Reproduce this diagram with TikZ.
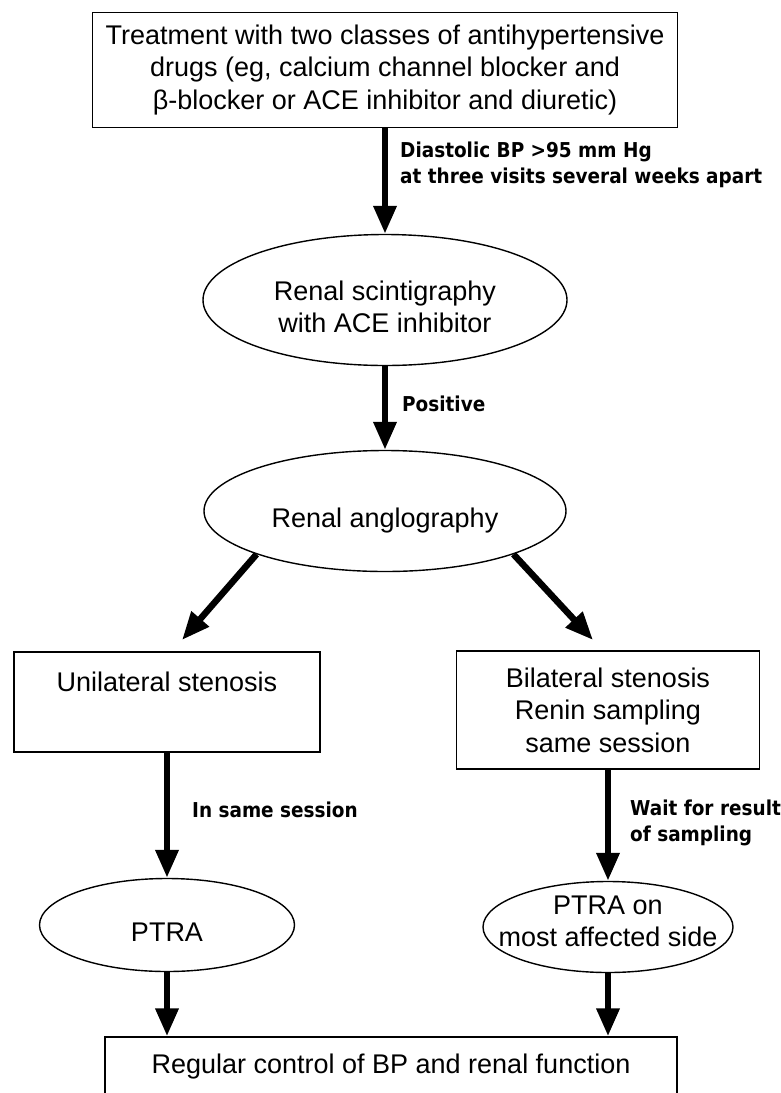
\documentclass[tikz,border=0pt]{standalone}
\usepackage{fontspec}
\setmainfont{Liberation Sans}
\newfontfamily\notefont{DejaVu Sans Condensed}
\usetikzlibrary{arrows.meta,shapes.geometric}
\newcommand{\txtsize}{\fontsize{27}{32.5}\selectfont}
\newcommand{\notesize}{\notefont\bfseries\fontsize{20.5}{26}\selectfont}
\newcommand{\ovaltext}[2][-16pt]{\makebox[0pt]{\raisebox{#1}{\begin{tabular}{@{}c@{}}#2\end{tabular}}}}
\begin{document}
\begin{tikzpicture}[x=1pt,y=-1pt,>={Triangle[length=28pt,width=22pt]},
  box/.style={draw,line width=1.4pt,align=center,inner sep=0pt,font=\txtsize},
  oval/.style={draw,ellipse,line width=1.4pt,inner sep=0pt,text height=0pt,text depth=0pt,font=\txtsize},
  flow/.style={->,line width=6.5pt},
  note/.style={anchor=west,align=left,inner sep=0pt,font=\notesize}]
\useasboundingbox (0,0) rectangle (781,1093);

\node[box,minimum width=585pt,minimum height=115pt] (drugs) at (385,70) {Treatment with two classes of antihypertensive\\drugs (eg, calcium channel blocker and\\β-blocker or ACE inhibitor and diuretic)};
\node[oval,minimum width=364pt,minimum height=131pt] (scint) at (385,300) {\ovaltext{Renal scintigraphy\\with ACE inhibitor}};
\node[oval,minimum width=362pt,minimum height=121pt] (angio) at (385,511) {\ovaltext{Renal anglography}};
\node[box,minimum width=306pt,text height=39pt,text depth=61pt] (uni) at (167,702) {Unilateral stenosis};
\node[box,minimum width=303pt,minimum height=118pt] (bi) at (608,710) {Bilateral stenosis\\Renin sampling\\same session};
\node[oval,minimum width=255pt,minimum height=93pt] (ptra) at (167,925) {\ovaltext{PTRA}};
\node[oval,minimum width=250pt,minimum height=91pt] (ptraside) at (608,927) {\ovaltext[-3pt]{PTRA on\\most affected side}};
\node[box,minimum width=572pt,text height=36pt,text depth=40pt] (control) at (391,1075) {Regular control of BP and renal function};

\coordinate (unitip) at (182,640);
\coordinate (bitip) at (593,640);

\node[note] (bp) at (400,165) {Diastolic BP >95 mm Hg\\at three visits several weeks apart};
\node[note] (pos) at (402,404) {Positive};
\node[note] (same) at (192,810) {In same session};
\node[note] (wait) at (630,823) {Wait for result\\of sampling};

\draw[flow] (drugs) -- (scint);
\draw[flow] (scint) -- (angio);
\draw[flow] (angio.south west) -- (unitip);
\draw[flow] (angio.south east) -- (bitip);
\draw[flow] (uni) -- (ptra);
\draw[flow] (bi) -- (ptraside);
\draw[flow] (ptra) -- (ptra |- control.north);
\draw[flow] (ptraside) -- (ptraside |- control.north);
\end{tikzpicture}
\end{document}
